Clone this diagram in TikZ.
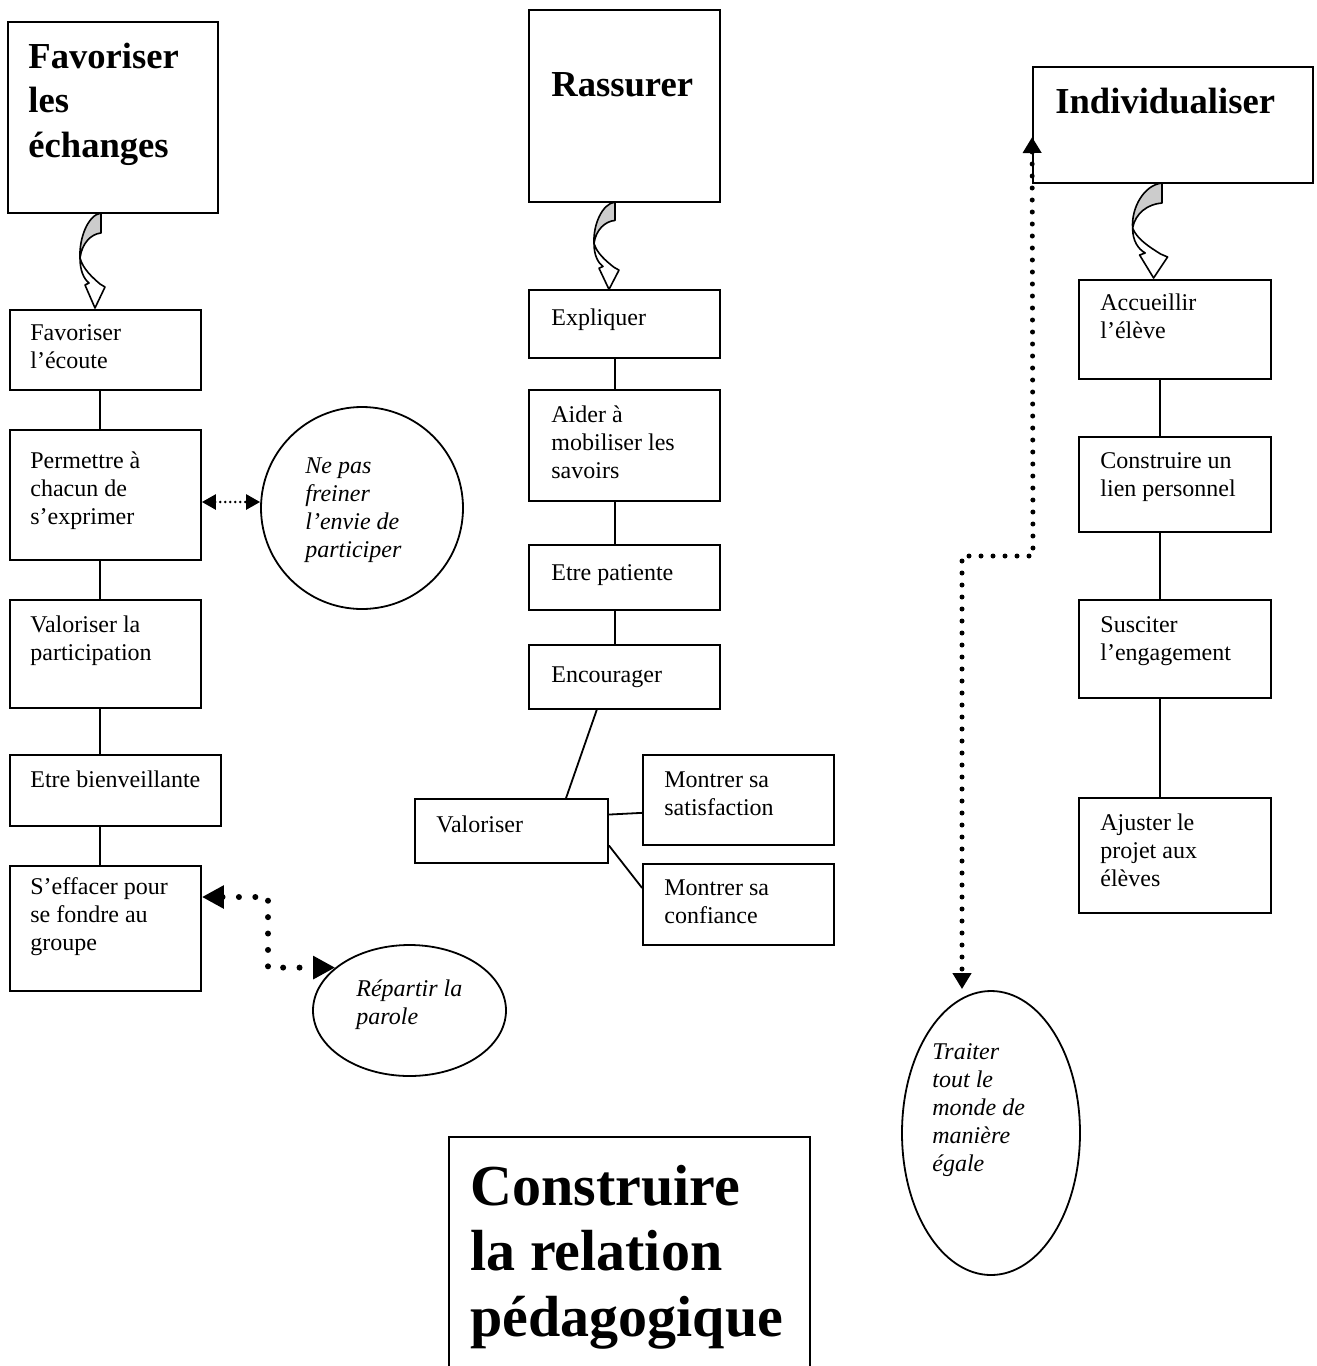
\documentclass[tikz,border=0pt]{standalone}
\usepackage{fontspec}
\setmainfont{Liberation Serif}
\usetikzlibrary{shapes.geometric,fit,calc,arrows.meta}
\tikzset{
  bx/.style={draw, line width=0.9pt, inner sep=0pt},
  conn/.style={line width=0.9pt},
  body/.style={anchor=north west, inner sep=0pt, align=left, font=\fontsize{12}{14}\selectfont},
  bodyit/.style={body, font=\fontsize{12}{14}\selectfont\itshape},
  hdr/.style={anchor=north west, inner sep=0pt, align=left, font=\fontsize{18.3}{22.2}\selectfont\bfseries},
  ttl/.style={anchor=north west, inner sep=0pt, align=left, font=\fontsize{29}{32.7}\selectfont\bfseries},
  oval/.style={draw, ellipse, line width=0.9pt, inner sep=0pt},
  bigdot/.style={line width=3pt, dash pattern=on 0pt off 8.2pt, line cap=round,
     {Triangle[length=11pt,width=11pt]}-{Triangle[length=11pt,width=11pt]}},
  smalldot/.style={line width=1.3pt, dash pattern=on 0pt off 2.5pt, line cap=round,
     {Triangle[length=7pt,width=7.5pt]}-{Triangle[length=7pt,width=7.5pt]}},
  meddot/.style={line width=2.5pt, dash pattern=on 0pt off 6pt, line cap=round,
     {Triangle[length=8pt,width=9pt]}-{Triangle[length=8pt,width=9pt]}}
}
\newcommand\curlarrow[3]{%
  \begin{scope}[shift={(#1)}, xscale=#2, yscale=#3, line width=0.8pt, line join=round]
    \filldraw[fill=black!20] (0,0) -- (0,20) .. controls (-10,21) and (-19,30) .. (-21,45)
       .. controls (-22,25) and (-13,2) .. (0,0) -- cycle;
    \filldraw[fill=white] (-21,45) .. controls (-21,58) and (-17,66) .. (-12,70) -- (-16,72)
       -- (-6,95) -- (4,74) -- (-1,71) .. controls (-9,64) and (-18,56) .. (-21,45) -- cycle;
  \end{scope}}
\begin{document}
\begin{tikzpicture}[x=0.5pt, y=-0.5pt]
\useasboundingbox (0,0) rectangle (1317,1366);

% ---------- column 1 ----------
\node[bx, fit={(8,22) (218,213)}] (h1) {};
\node[hdr] (h1t) at (28,36.9) {\strut Favoriser\\les\\échanges};
\curlarrow{101,213}{1}{1}

\node[bx, fit={(10,310) (201,390)}] (a1) {};
\node[body] (a1t) at (30,320.4) {\strut Favoriser\\l’écoute};
\node[bx, fit={(10,430) (201,560)}] (a2) {};
\node[body] (a2t) at (30,448.4) {\strut Permettre à\\chacun de\\s’exprimer};
\node[bx, fit={(10,600) (201,708)}] (a3) {};
\node[body] (a3t) at (30,612.4) {\strut Valoriser la\\participation};
\node[bx, fit={(10,755) (221,826)}] (a4) {};
\node[body] (a4t) at (30,767.4) {\strut Etre bienveillante};
\node[bx, fit={(10,866) (201,991)}] (a5) {};
\node[body] (a5t) at (30,874.4) {\strut S’effacer pour\\se fondre au\\groupe};

\coordinate (c1x) at (100,0);
\draw[conn] (a1.south -| c1x) -- (a2.north -| c1x);
\draw[conn] (a2.south -| c1x) -- (a3.north -| c1x);
\draw[conn] (a3.south -| c1x) -- (a4.north -| c1x);
\draw[conn] (a4.south -| c1x) -- (a5.north -| c1x);

\node[oval, circle, minimum size=101pt] (np) at (362,508) {};
\node[bodyit] (npt) at (305,453.4) {\strut Ne pas\\freiner\\l’envie de\\participer};
\coordinate (c502) at (0,502);
\draw[smalldot] (a2.east |- c502) -- (np.west |- c502);

\node[oval, minimum width=96.5pt, minimum height=65.5pt] (rp) at (409.5,1010.5) {};
\node[bodyit] (rpt) at (356,976.4) {\strut Répartir la\\parole};
\coordinate (c897) at (0,897);
\draw[bigdot] (a5.east |- c897) -- (268,897) |- (rp.150);

% ---------- column 2 ----------
\node[bx, fit={(529,10) (720,202)}] (h2) {};
\node[hdr] (h2t) at (551,64.9) {\strut Rassurer};
\curlarrow{615,202}{1}{0.92}

\node[bx, fit={(529,290) (720,358)}] (b1) {};
\node[body] (b1t) at (551,305.4) {\strut Expliquer};
\node[bx, fit={(529,390) (720,501)}] (b2) {};
\node[body] (b2t) at (551,402.4) {\strut Aider à\\mobiliser les\\savoirs};
\node[bx, fit={(529,545) (720,610)}] (b3) {};
\node[body] (b3t) at (551,560.4) {\strut Etre patiente};
\node[bx, fit={(529,645) (720,709)}] (b4) {};
\node[body] (b4t) at (551,662.4) {\strut Encourager};

\coordinate (c2x) at (615,0);
\draw[conn] (b1.south -| c2x) -- (b2.north -| c2x);
\draw[conn] (b2.south -| c2x) -- (b3.north -| c2x);
\draw[conn] (b3.south -| c2x) -- (b4.north -| c2x);

\node[bx, fit={(415,799) (608,863)}] (v) {};
\node[body] (vt) at (436,812.4) {\strut Valoriser};
\node[bx, fit={(643,755) (834,845)}] (ms) {};
\node[body] (mst) at (664,767.4) {\strut Montrer sa\\satisfaction};
\node[bx, fit={(643,864) (834,945)}] (mc) {};
\node[body] (mct) at (664,875.4) {\strut Montrer sa\\confiance};

\draw[conn] ($(b4.south west)!0.356!(b4.south east)$) -- ($(v.north west)!0.78!(v.north east)$);
\draw[conn] ($(v.north east)!0.25!(v.south east)$) -- ($(ms.north west)!0.64!(ms.south west)$);
\draw[conn] ($(v.north east)!0.72!(v.south east)$) -- ($(mc.north west)!0.30!(mc.south west)$);

% ---------- column 3 ----------
\node[bx, fit={(1033,67) (1313,183)}] (h3) {};
\node[hdr] (h3t) at (1055,81.9) {\strut Individualiser};
\curlarrow{1162,183}{1.4}{1}

\node[bx, fit={(1079,280) (1271,379)}] (d1) {};
\node[body] (d1t) at (1100,290.4) {\strut Accueillir\\l’élève};
\node[bx, fit={(1079,437) (1271,532)}] (d2) {};
\node[body] (d2t) at (1100,448.4) {\strut Construire un\\lien personnel};
\node[bx, fit={(1079,600) (1271,698)}] (d3) {};
\node[body] (d3t) at (1100,612.4) {\strut Susciter\\l’engagement};
\node[bx, fit={(1079,798) (1271,913)}] (d4) {};
\node[body] (d4t) at (1100,810.4) {\strut Ajuster le\\projet aux\\élèves};

\coordinate (c3x) at (1160,0);
\draw[conn] (d1.south -| c3x) -- (d2.north -| c3x);
\draw[conn] (d2.south -| c3x) -- (d3.north -| c3x);
\draw[conn] (d3.south -| c3x) -- (d4.north -| c3x);

\node[oval, minimum width=89pt, minimum height=142pt] (tr) at (991,1133) {};
\node[bodyit] (trt) at (932,1039.4) {\strut Traiter\\tout le\\monde de\\manière\\égale};
\coordinate (c137) at (0,137);
\coordinate (trtop) at ($(tr.north)+(-29,-1)$);
\draw[meddot] (h3.west |- c137) -- (1033,556) -- (962,556) -- (trtop);

% ---------- title ----------
\node[bx, fit={(449,1137) (810,1420)}] (tb) {};
\node[ttl] (tbt) at (470,1159.2) {\strut Construire\\la relation\\pédagogique};
\end{tikzpicture}
\end{document}
